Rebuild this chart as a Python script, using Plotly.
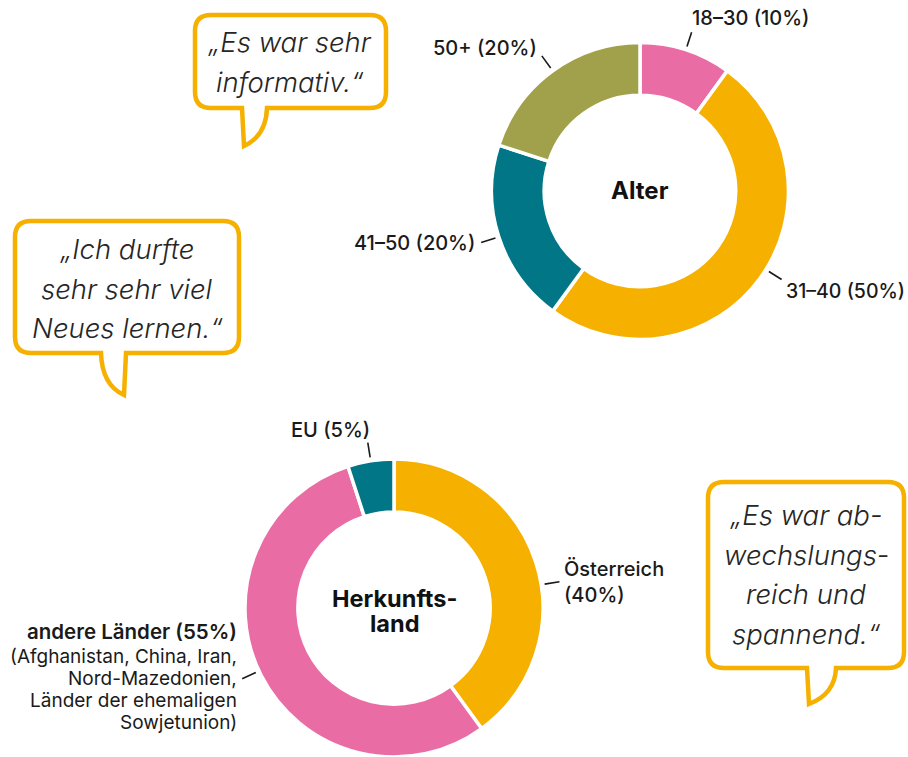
import math
import plotly.graph_objects as go

W, H = 908, 757

# ---------------- data ----------------
age_labels = ["18–30 (10%)", "31–40 (50%)", "41–50 (20%)", "50+ (20%)"]
age_values = [10, 50, 20, 20]
age_colors = ["#EA6CA5", "#F6B100", "#007686", "#A2A14B"]
age_title = "Alter"

origin_labels = ["Österreich<br>(40%)", "andere Länder (55%)", "EU (5%)"]
origin_values = [40, 55, 5]
origin_colors = ["#F6B100", "#EA6CA5", "#007686"]
origin_title = ["Herkunfts-", "land"]
origin_detail = ["(Afghanistan, China, Iran,", "Nord-Mazedonien,",
                 "Länder der ehemaligen", "Sowjetunion)"]

quotes = [
    ["„Es war sehr", "informativ.“"],
    ["„Ich durfte", "sehr sehr viel", "Neues lernen.“"],
    ["„Es war ab-", "wechslungs-", "reich und", "spannend.“"],
]

# ---------------- helpers ----------------
FONT = "Inter"
GOLD = "#F6B100"
TXT = "#1a1a1a"


def px(x):
    return x / W


def py(y):
    return 1 - y / H


# pie geometry (pixels)
top_c, top_r = (640, 191), 148.5
bot_r = 149
bot_c = (394, H - bot_r)

fig = go.Figure()


def add_donut(values, colors, center, r):
    cx, cy = center
    fig.add_trace(go.Pie(
        values=values, sort=False, direction="clockwise", rotation=0,
        hole=0.645, textinfo="none", hoverinfo="skip",
        marker=dict(colors=colors, line=dict(color="white", width=3.5)),
        domain=dict(x=[px(cx - r), px(cx + r)], y=[py(cy + r), py(cy - r)]),
    ))


add_donut(age_values, age_colors, top_c, top_r)
add_donut(origin_values, origin_colors, bot_c, bot_r)

shapes = []
annotations = []


def leader(values, idx, center, r, adj=0.0):
    tot = sum(values)
    cum = sum(values[:idx]) + values[idx] / 2
    th = math.radians(360 * cum / tot + adj)
    cx, cy = center
    r1, r2 = r + 3.5, r + 18.5
    p1 = (cx + r1 * math.sin(th), cy - r1 * math.cos(th))
    p2 = (cx + r2 * math.sin(th), cy - r2 * math.cos(th))
    shapes.append(dict(type="line", xref="paper", yref="paper",
                       x0=px(p1[0]), y0=py(p1[1]), x1=px(p2[0]), y1=py(p2[1]),
                       line=dict(color=TXT, width=1.6)))
    return p2


def label(text, pos, dx, dy, xanchor, size=20, weight=500, align="left"):
    annotations.append(dict(
        text=text, xref="paper", yref="paper", x=px(pos[0] + dx), y=py(pos[1] + dy),
        xanchor=xanchor, yanchor="middle", showarrow=False, align=align,
        font=dict(family=FONT, size=size, color=TXT, weight=weight)))


# age labels
e = leader(age_values, 0, top_c, top_r)
label(age_labels[0], e, -2, -14, "left")
e = leader(age_values, 1, top_c, top_r, adj=-4)
label(age_labels[1], e, 2, 12, "left", size=19.5)
e = leader(age_values, 2, top_c, top_r)
label(age_labels[2], e, -4, 0, "right")
e = leader(age_values, 3, top_c, top_r)
label(age_labels[3], e, -3, -8, "right")

# origin labels
e = leader(origin_values, 0, bot_c, bot_r, adj=9)
label(origin_labels[0], e, 3, 0, "left")
e = leader(origin_values, 1, bot_c, bot_r, adj=2)
label(origin_labels[1], e, -3, -47.5, "right", size=20.5, weight=600)
for i, t in enumerate(origin_detail):
    label(t, e, -3, -22.5 + 22 * i, "right", size=19, weight=400, align="right")
e = leader(origin_values, 2, bot_c, bot_r)
label(origin_labels[2], e, 4, -13, "right")

# center titles
annotations.append(dict(text=age_title, xref="paper", yref="paper",
                        x=px(top_c[0]), y=py(top_c[1] - 1), showarrow=False,
                        xanchor="center", yanchor="middle",
                        font=dict(family=FONT, size=24, color="#111", weight=700)))
for i, t in enumerate(origin_title):
    annotations.append(dict(text=t, xref="paper", yref="paper",
                            x=px(bot_c[0]), y=py(598 + 25 * i), showarrow=False,
                            xanchor="center", yanchor="middle", borderpad=0,
                            font=dict(family=FONT, size=23.5, color="#111", weight=700)))


# speech bubbles
def bubble(x0, y0, x1, y1, rad, tail):
    (ax, bx, tipx, tipy, side) = tail
    d = f"M {px(x0 + rad)},{py(y0)} L {px(x1 - rad)},{py(y0)} "
    d += f"Q {px(x1)},{py(y0)} {px(x1)},{py(y0 + rad)} "
    d += f"L {px(x1)},{py(y1 - rad)} Q {px(x1)},{py(y1)} {px(x1 - rad)},{py(y1)} "
    if side == "right":  # curved right edge, straight left edge
        d += f"L {px(bx)},{py(y1)} Q {px(bx - 1)},{py(tipy - 10)} {px(tipx)},{py(tipy)} "
        d += f"L {px(ax)},{py(y1)} "
    else:  # curved left edge, straight right edge
        d += f"L {px(bx)},{py(y1)} L {px(tipx)},{py(tipy)} "
        d += f"Q {px(ax + 1)},{py(tipy - 10)} {px(ax)},{py(y1)} "
    d += f"L {px(x0 + rad)},{py(y1)} Q {px(x0)},{py(y1)} {px(x0)},{py(y1 - rad)} "
    d += f"L {px(x0)},{py(y0 + rad)} Q {px(x0)},{py(y0)} {px(x0 + rad)},{py(y0)} Z"
    shapes.append(dict(type="path", xref="paper", yref="paper", path=d,
                       fillcolor="white", line=dict(color=GOLD, width=4.5), layer="above"))


bubble(195, 15, 386, 108, 16, (242, 267, 244, 146, "right"))
bubble(15, 221, 239, 353, 16, (101, 126, 124, 395, "left"))
bubble(708, 482, 904, 668, 16, (807, 836, 809, 704, "right"))

quote_pos = [(290, 42), (127, 249), (806, 515)]
quote_step = 39.5
for (qx, qy), lines in zip(quote_pos, quotes):
    for i, t in enumerate(lines):
        annotations.append(dict(text=t, xref="paper", yref="paper",
                                x=px(qx), y=py(qy + quote_step * i), showarrow=False,
                                xanchor="center", yanchor="middle", borderpad=0,
                                font=dict(family=FONT, size=27.5, color="#262626",
                                          weight=300, style="italic")))

fig.update_layout(
    width=W, height=H, margin=dict(l=0, r=0, t=0, b=0),
    paper_bgcolor="white", plot_bgcolor="white", showlegend=False,
    shapes=shapes, annotations=annotations,
)
fig.write_html("out.html", config={"displayModeBar": False},
               post_script="document.body.style.margin='0px';")
